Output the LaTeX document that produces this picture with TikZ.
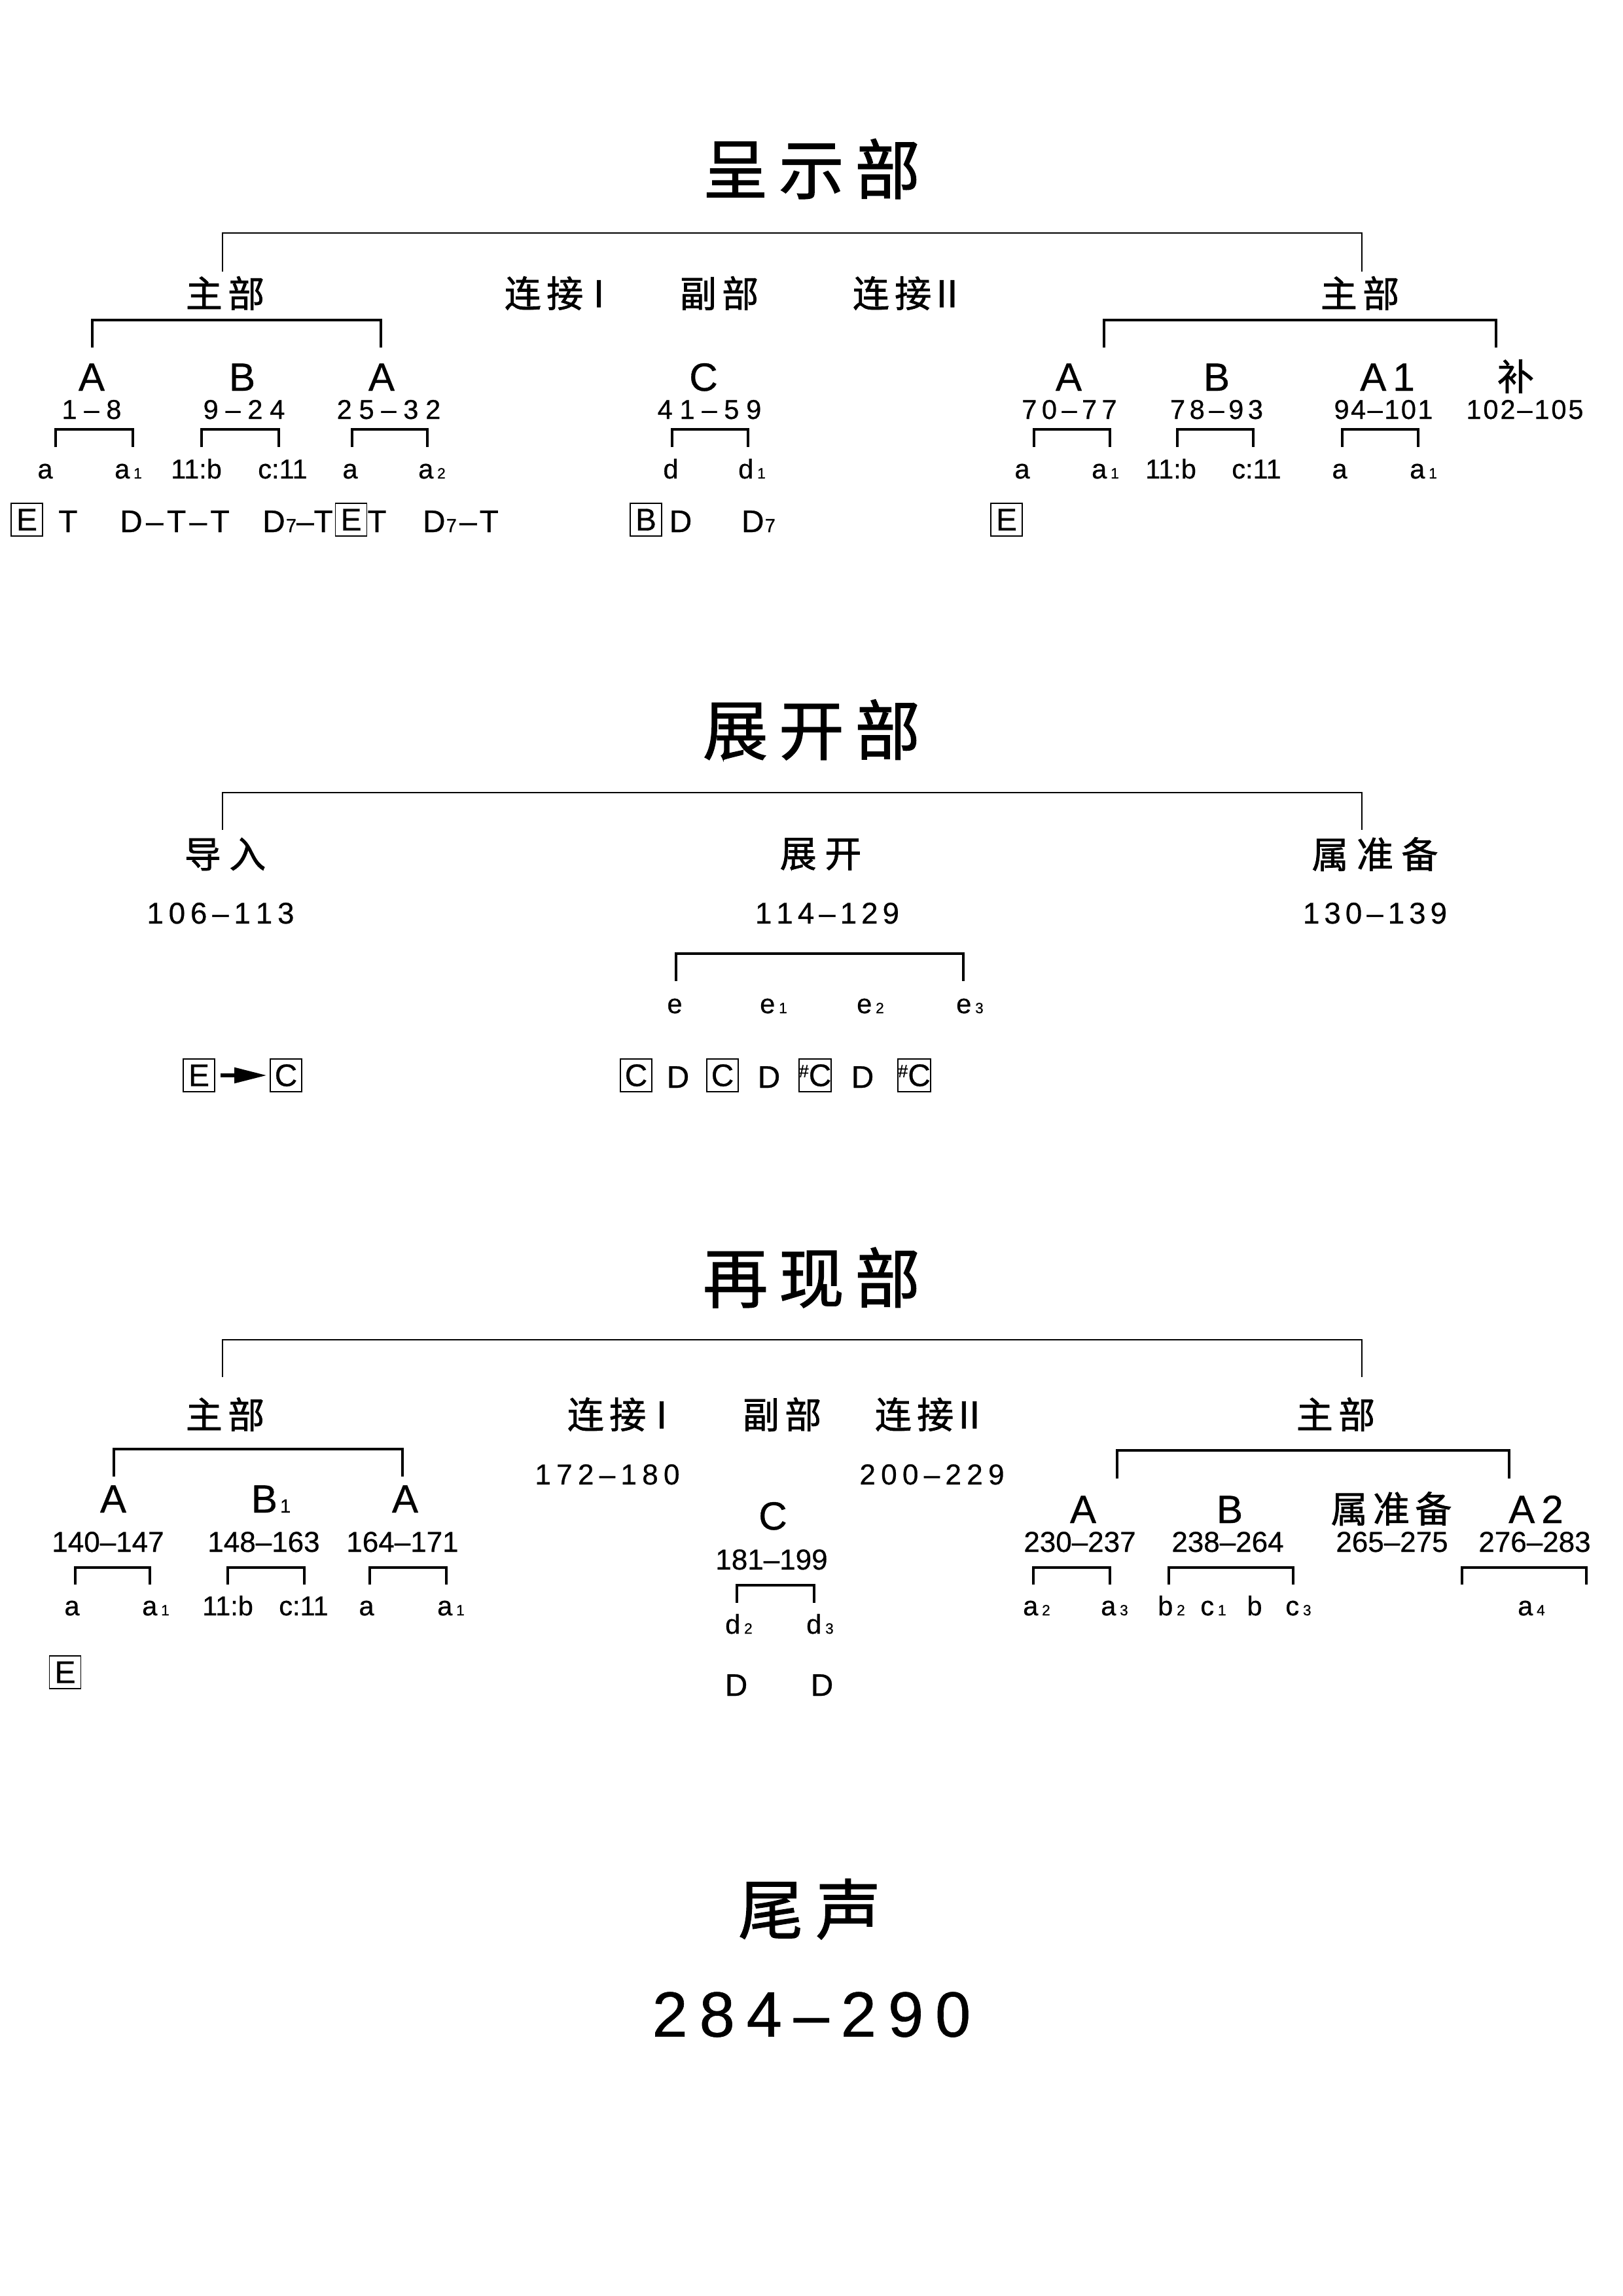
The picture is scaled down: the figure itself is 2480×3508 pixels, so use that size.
\documentclass[tikz,border=0pt]{standalone}
\usepackage{fontspec}
\setmainfont{Liberation Sans}[FakeBold=0.6]
\newfontfamily\cjk{Noto Sans CJK SC}[FakeBold=1.3]
\usetikzlibrary{arrows.meta}
\makeatletter
\newcommand\spc[2]{\def\spc@amt{#1}\kern-#1\relax\spc@loop#2\relax}
\def\spc@loop#1{\ifx#1\relax\else\kern\spc@amt\relax#1\expandafter\spc@loop\fi}
\makeatother
\newcommand\msub[1]{\kern1.4pt{\fontsize{5.5}{6}\selectfont #1}}
\newcommand\hsub[1]{\kern0.3pt{\fontsize{7}{8}\selectfont #1}}
\newcommand\shp{{\fontsize{6.5}{7}\selectfont\raisebox{3.3pt}{\#}}}
\newcommand\brk[5][sbrk]{\draw[#1] (#2,#5) |- (#3,#4) -- (#3,#5);}
\tikzset{
  ttl/.style={font=\cjk\fontsize{24}{28}\selectfont, inner sep=0pt},
  lv/.style={font=\cjk\fontsize{13.5}{16}\selectfont, inner sep=0pt},
  let/.style={font=\fontsize{14.5}{17}\selectfont, anchor=base, inner sep=0pt},
  num/.style={font=\fontsize{10}{12}\selectfont, anchor=base, inner sep=0pt},
  numb/.style={font=\fontsize{10.6}{12}\selectfont, anchor=base, inner sep=0pt},
  numc/.style={font=\fontsize{11}{13}\selectfont, anchor=base, inner sep=0pt},
  mot/.style={font=\fontsize{10}{12}\selectfont, anchor=base, inner sep=0pt},
  har/.style={font=\fontsize{11.5}{14}\selectfont, anchor=base, inner sep=0pt},
  kb/.style={draw, line width=0.45pt, inner sep=0pt, minimum width=11.56pt,
     minimum height=12.05pt, font=\fontsize{11.5}{14}\selectfont},
  coda/.style={font=\fontsize{23.5}{28}\selectfont, inner sep=0pt},
  tbrk/.style={line width=0.6pt},
  sbrk/.style={line width=0.85pt},
  arr/.style={line width=1.5pt, -{Triangle[length=12pt,width=5.5pt]},
     shorten <=2pt, shorten >=1pt}
}
\begin{document}
\begin{tikzpicture}[x=0.0846774mm, y=-0.0846774mm]
\useasboundingbox (0,0) rectangle (2480,3508);
\fill[white] (0,0) rectangle (2480,3508);

% ================= 呈示部 =================
\node[ttl] (t1) at (1240,258) {\spc{4pt}{呈示部}};
\brk[tbrk]{340}{2081}{356}{415}
\node[lv] (e1zb) at (344,448) {\spc{2pt}{主部}};
\node[lv] (e1lj) at (857,448) {\spc{2pt}{连接}\kern-1pt Ⅰ};
\node[lv] (e1fb) at (1099,448) {\spc{2pt}{副部}};
\node[lv] (e1lk) at (1389,448) {\spc{2pt}{连接}\kern-1pt Ⅱ};
\node[lv] (e1zc) at (2078,448) {\spc{2pt}{主部}};
\brk{141}{582}{489}{531}
\brk{1687}{2286}{489}{531}

\node[let] (e1A) at (140,597) {A};
\node[let] (e1B) at (370,597) {B};
\node[let] (e1Ab) at (583,597) {A};
\node[let] (e1C) at (1075,597) {C};
\node[let] (e1Ac) at (1633,597) {A};
\node[let] (e1Bb) at (1859,597) {B};
\node[let] (e1Ad) at (2120,597) {\spc{2.4pt}{A1}};
\node[lv] (e1bu) at (2316,575) {补};

\node[num] (n1) at (140,640) {\spc{2.6pt}{1–8}};
\node[num] (n2) at (373,640) {\spc{2.6pt}{9–24}};
\node[num] (n3) at (594,640) {\spc{2.6pt}{25–32}};
\node[num] (n4) at (1084,640) {\spc{2.6pt}{41–59}};
\node[num] (n5) at (1634,640) {\spc{1.8pt}{70–77}};
\node[num] (n6) at (1859,640) {\spc{1.6pt}{78–93}};
\node[num] (n7) at (2114,640) {\spc{0.6pt}{94–101}};
\node[num] (n8) at (2330,640) {\spc{0.7pt}{102–105}};

\brk{85}{203}{656}{683}
\brk{308}{426}{656}{683}
\brk{538}{653}{656}{683}
\brk{1027}{1143}{656}{683}
\brk{1580}{1696}{656}{683}
\brk{1799}{1915}{656}{683}
\brk{2051}{2167}{656}{683}

\node[mot] (m1) at (69,731) {a};
\node[mot] (m2) at (196,731) {a\msub1};
\node[mot] (m3) at (300,731) {11:b};
\node[mot] (m4) at (432,731) {c:11};
\node[mot] (m5) at (535,731) {a};
\node[mot] (m6) at (660,731) {a\msub2};
\node[mot] (m7) at (1025,731) {d};
\node[mot] (m8) at (1149,731) {d\msub1};
\node[mot] (m9) at (1562,731) {a};
\node[mot] (m10) at (1689,731) {a\msub1};
\node[mot] (m11) at (1789,731) {11:b};
\node[mot] (m12) at (1920,731) {c:11};
\node[mot] (m13) at (2047,731) {a};
\node[mot] (m14) at (2175,731) {a\msub1};

\node[kb] (h1) at (41,794) {E};
\node[har] (h2) at (104,813) {T};
\node[har] (h3) at (267,813) {\spc{1.3pt}{D–T–T}};
\node[har] (h4) at (455,813) {D\hsub7–T};
\node[kb] (h5) at (536.5,794) {E};
\node[har] (h6) at (576,813) {T};
\node[har] (h7) at (704,813) {D\hsub7\kern1pt–\kern1pt T};
\node[kb] (h8) at (987,794) {B};
\node[har] (h9) at (1040,813) {D};
\node[har] (h10) at (1159,813) {D\hsub7};
\node[kb] (h11) at (1538,794) {E};

% ================= 展开部 =================
\node[ttl] (t2) at (1240,1115) {\spc{4pt}{展开部}};
\brk[tbrk]{340}{2081}{1211}{1268}
\node[lv] (d1) at (344,1305) {\spc{3pt}{导入}};
\node[lv] (d2) at (1254,1305) {\spc{3pt}{展开}};
\node[lv] (d3) at (2101,1305) {\spc{3pt}{属准备}};
\node[numc] (dn1) at (337,1411) {\spc{1.9pt}{106–113}};
\node[numc] (dn2) at (1264,1411) {\spc{1.7pt}{114–129}};
\node[numc] (dn3) at (2101,1411) {\spc{1.7pt}{130–139}};
\brk{1033}{1472}{1457}{1499}
\node[mot] (de1) at (1031,1548) {e};
\node[mot] (de2) at (1182,1548) {e\msub1};
\node[mot] (de3) at (1330,1548) {e\msub2};
\node[mot] (de4) at (1482,1548) {e\msub3};

\node[kb] (dk1) at (304,1643) {E};
\node[kb] (dk2) at (437,1643) {C};
\draw[arr] (dk1.east) -- (dk2.west);
\node[kb] (dk3) at (972,1643) {C};
\node[har] (dh1) at (1036,1662) {D};
\node[kb] (dk4) at (1104,1643) {C};
\node[har] (dh2) at (1175,1662) {D};
\node[kb] (dk5) at (1245.5,1643) {\shp C};
\node[har] (dh3) at (1318,1662) {D};
\node[kb] (dk6) at (1397,1643) {\shp C};

% ================= 再现部 =================
\node[ttl] (t3) at (1240,1952) {\spc{4pt}{再现部}};
\brk[tbrk]{340}{2081}{2047}{2104}
\node[lv] (r1zb) at (344,2161) {\spc{2pt}{主部}};
\node[lv] (r1lj) at (953,2161) {\spc{2pt}{连接}\kern-1pt Ⅰ};
\node[lv] (r1fb) at (1195,2161) {\spc{2pt}{副部}};
\node[lv] (r1lk) at (1423,2161) {\spc{2pt}{连接}\kern-1pt Ⅱ};
\node[lv] (r1zc) at (2041,2161) {\spc{2pt}{主部}};
\node[numb] (rn1) at (928,2268) {\spc{2pt}{172–180}};
\node[numb] (rn2) at (1424,2268) {\spc{2pt}{200–229}};
\brk{174}{615}{2214}{2256}
\brk{1707}{2306}{2216}{2259}

\node[let] (rA) at (173,2311) {A};
\node[let] (rB) at (414,2311) {B\kern1pt{\fontsize{7}{8}\selectfont 1}};
\node[let] (rAb) at (619,2311) {A};
\node[let] (rC) at (1181,2337) {C};
\node[let] (rAc) at (1655,2327) {A};
\node[let] (rBb) at (1879,2327) {B};
\node[lv] (rsz) at (2126,2305) {\spc{2pt}{属准备}};
\node[let] (rAd) at (2347,2327) {\spc{2.4pt}{A2}};

\node[numb] (rn3) at (165,2371) {140–147};
\node[numb] (rn4) at (403,2371) {148–163};
\node[numb] (rn5) at (615,2371) {164–171};
\node[numb] (rn6) at (1179,2398) {181–199};
\node[numb] (rn7) at (1650,2371) {230–237};
\node[numb] (rn8) at (1876,2371) {238–264};
\node[numb] (rn9) at (2127,2371) {265–275};
\node[numb] (rn10) at (2345,2371) {276–283};

\brk{115}{229}{2395}{2421}
\brk{348}{465}{2395}{2421}
\brk{565}{682}{2395}{2421}
\brk{1126}{1244}{2422}{2449}
\brk{1579}{1696}{2395}{2421}
\brk{1786}{1976}{2395}{2421}
\brk{2234}{2424}{2395}{2421}

\node[mot] (rm1) at (110,2468) {a};
\node[mot] (rm2) at (238,2468) {a\msub1};
\node[mot] (rm3) at (348,2468) {11:b};
\node[mot] (rm4) at (464,2468) {c:11};
\node[mot] (rm5) at (560,2468) {a};
\node[mot] (rm6) at (689,2468) {a\msub1};
\node[mot] (rm7) at (1129,2496) {d\msub2};
\node[mot] (rm8) at (1253,2496) {d\msub3};
\node[mot] (rm9) at (1584,2468) {a\msub2};
\node[mot] (rm10) at (1703,2468) {a\msub3};
\node[mot] (rm11) at (1790,2468) {b\msub2};
\node[mot] (rm12) at (1854,2468) {c\msub1};
\node[mot] (rm13) at (1917,2468) {b};
\node[mot] (rm14) at (1984,2468) {c\msub3};
\node[mot] (rm15) at (2340,2468) {a\msub4};

\node[kb] (rk1) at (99.5,2555) {E};
\node[har] (rh1) at (1125,2591) {D};
\node[har] (rh2) at (1256,2591) {D};

% ================= 尾声 =================
\node[ttl] (t4) at (1237,2917) {\spc{4.5pt}{尾声}};
\node[coda] (cn) at (1240,3078) {\spc{4.3pt}{284–290}};
\end{tikzpicture}
\end{document}
